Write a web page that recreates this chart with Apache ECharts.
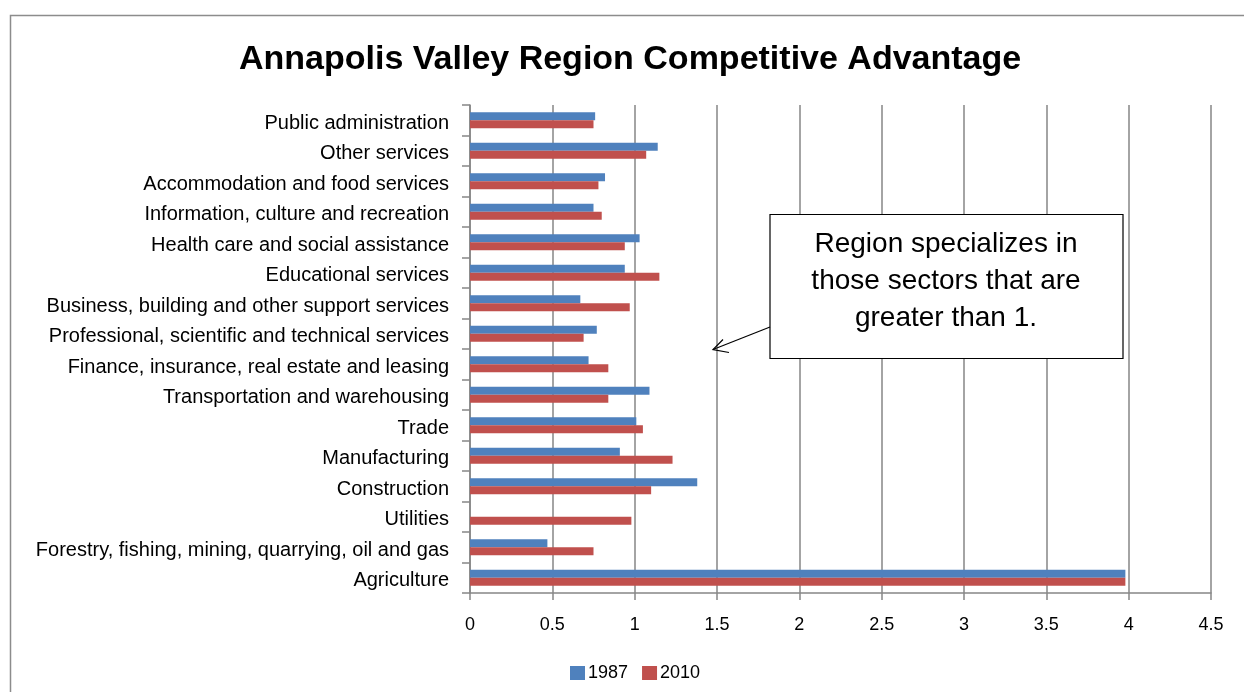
<!DOCTYPE html>
<html>
<head>
<meta charset="utf-8">
<script src="https://cdn.jsdelivr.net/npm/echarts@6/dist/echarts.min.js"></script>
<style>html,body{margin:0;padding:0;background:#fff;}#c{width:1244px;height:692px;}</style>
</head>
<body>
<div id="c"></div>
<script>
const categories = [
  "Public administration",
  "Other services",
  "Accommodation and food services",
  "Information, culture and recreation",
  "Health care and social assistance",
  "Educational services",
  "Business, building and other support services",
  "Professional, scientific and technical services",
  "Finance, insurance, real estate and leasing",
  "Transportation and warehousing",
  "Trade",
  "Manufacturing",
  "Construction",
  "Utilities",
  "Forestry, fishing, mining, quarrying, oil and gas",
  "Agriculture"
];
const values1987 = [0.76, 1.14, 0.82, 0.75, 1.03, 0.94, 0.67, 0.77, 0.72, 1.09, 1.01, 0.91, 1.38, 0, 0.47, 3.98];
const values2010 = [0.75, 1.07, 0.78, 0.80, 0.94, 1.15, 0.97, 0.69, 0.84, 0.84, 1.05, 1.23, 1.10, 0.98, 0.75, 3.98];
const seriesNames = ["1987", "2010"];
const xTicks = {min: 0, max: 4.5, interval: 0.5};
const titleText = "Annapolis Valley Region Competitive Advantage";
const noteLines = ["Region specializes in", "those sectors that are", "greater than 1."];

const FONT = "Liberation Sans";
const chart = echarts.init(document.getElementById('c'), null, {renderer: 'canvas'});
chart.setOption({
  animation: false,
  backgroundColor: '#fff',
  title: {
    text: titleText,
    left: 234, top: 38,
    textStyle: {fontFamily: FONT, fontWeight: 'bold', fontSize: 34, color: '#000'}
  },
  legend: {
    data: seriesNames,
    left: 565, top: 659,
    itemWidth: 15, itemHeight: 14, itemGap: 14,
    textStyle: {fontFamily: FONT, fontSize: 18, color: '#000', padding: [0, 0, 0, -2]},
    icon: 'rect'
  },
  grid: {left: 470, right: 33, top: 105, bottom: 99, containLabel: false},
  xAxis: {
    type: 'value', min: xTicks.min, max: xTicks.max, interval: xTicks.interval,
    axisLine: {show: true, lineStyle: {color: '#868686', width: 1.5}},
    axisTick: {show: true, length: 7, lineStyle: {color: '#868686', width: 1.5}},
    splitLine: {show: true, lineStyle: {color: '#868686', width: 1.5}},
    axisLabel: {fontFamily: FONT, fontSize: 18, color: '#000', margin: 23}
  },
  yAxis: {
    type: 'category', data: categories, inverse: true,
    axisLine: {show: true, lineStyle: {color: '#868686', width: 1.5}},
    axisTick: {show: true, inside: false, length: 8, lineStyle: {color: '#868686', width: 1.5}},
    axisLabel: {
      margin: 21,
      formatter: function (v) { return '{a|' + v + '}'; },
      rich: {a: {fontFamily: FONT, fontSize: 20, color: '#000', padding: [6, 0, 0, 0]}}
    }
  },
  series: [
    {name: seriesNames[0], type: 'bar', data: values1987, barWidth: 8, barGap: '0%',
     itemStyle: {color: '#4F81BD'}},
    {name: seriesNames[1], type: 'bar', data: values2010, barWidth: 8, barGap: '0%',
     itemStyle: {color: '#C0504D'}}
  ],
  graphic: [
    {type: 'rect', shape: {x: 10.5, y: 15.5, width: 1400, height: 800},
     style: {fill: 'none', stroke: '#8c8c8c', lineWidth: 1.5}, silent: true},
    {type: 'rect', shape: {x: 770, y: 214.5, width: 353, height: 144},
     style: {fill: '#fff', stroke: '#000', lineWidth: 1.2}, z: 100},
    {type: 'text', x: 946, y: 244, z: 101,
     style: {text: noteLines[0], fontFamily: FONT, fontSize: 28, fill: '#000', textAlign: 'center', textVerticalAlign: 'middle'}},
    {type: 'text', x: 946, y: 281, z: 101,
     style: {text: noteLines[1], fontFamily: FONT, fontSize: 28, fill: '#000', textAlign: 'center', textVerticalAlign: 'middle'}},
    {type: 'text', x: 946, y: 318, z: 101,
     style: {text: noteLines[2], fontFamily: FONT, fontSize: 28, fill: '#000', textAlign: 'center', textVerticalAlign: 'middle'}},
    {type: 'polyline', z: 101, shape: {points: [[770, 327], [713, 349.5]]},
     style: {stroke: '#000', lineWidth: 1.2, fill: 'none'}},
    {type: 'polyline', z: 101, shape: {points: [[723, 339.5], [713, 349.5], [729, 352.5]]},
     style: {stroke: '#000', lineWidth: 1.2, fill: 'none'}}
  ]
});
</script>
</body>
</html>
